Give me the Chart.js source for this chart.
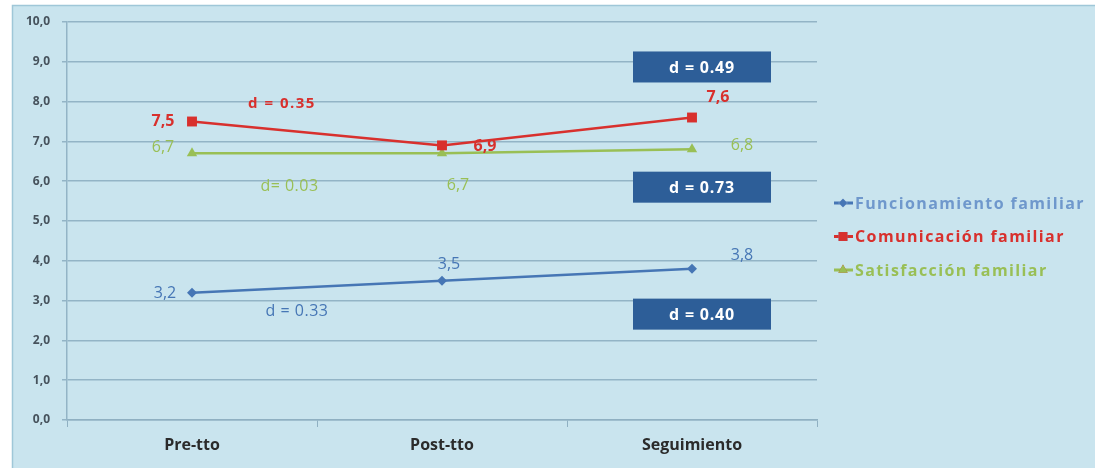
<!DOCTYPE html>
<html>
<head>
<meta charset="utf-8">
<script src="https://cdn.jsdelivr.net/npm/chart.js@4.4.1/dist/chart.umd.min.js"></script>
<style>
  html, body { margin: 0; padding: 0; background: #ffffff; }
  #wrap { width: 1095px; height: 468px; position: relative; }
</style>
</head>
<body>
<div id="wrap"><canvas id="chart" width="1095" height="468"></canvas></div>
<script>
// data
const categories = ["Pre-tto", "Post-tto", "Seguimiento"];
const seriesNames = ["Funcionamiento familiar", "Comunicación familiar", "Satisfacción familiar"];
const funcionamiento = [3.2, 3.5, 3.8];
const comunicacion = [7.5, 6.9, 7.6];
const satisfaccion = [6.7, 6.7, 6.8];
const yTickLabels = ["0,0", "1,0", "2,0", "3,0", "4,0", "5,0", "6,0", "7,0", "8,0", "9,0", "10,0"];
const effectSizes = ["d = 0.33", "d = 0.35", "d= 0.03"];
const effectBoxes = ["d = 0.40", "d = 0.49", "d = 0.73"];

const BLUE = "#4676b5";
const RED = "#d8302d";
const GREEN = "#99bf55";
const BOX = "#2d5e98";

// label offsets (px) per point, relative to the marker
const labelOffsets = [
  [[-27, 1], [7, -16], [50, -13]],
  [[-29, 0], [43, 1], [26, -20]],
  [[-29, -6], [16, 32], [50, -4]]
];
// where the d-annotations sit (category index, y value)
const effectAnchors = [[0.42, 2.72], [0.36, 7.95], [0.39, 5.87]];
const boxAnchors = [[2.04, 2.66], [2.04, 8.87], [2.04, 5.85]];

const datasets = [
  { label: seriesNames[0], data: funcionamiento, borderColor: BLUE, backgroundColor: BLUE,
    pointStyle: "rectRot", pointRadius: 5 },
  { label: seriesNames[1], data: comunicacion, borderColor: RED, backgroundColor: RED,
    pointStyle: "rect", pointRadius: 7 },
  { label: seriesNames[2], data: satisfaccion, borderColor: GREEN, backgroundColor: GREEN,
    pointStyle: "triangle", pointRadius: 6 }
].map(d => ({ ...d, borderWidth: 2.5, tension: 0, pointBorderWidth: 0, pointHoverRadius: d.pointRadius }));

const panelPlugin = {
  id: "panel",
  beforeDraw(chart) {
    const ctx = chart.ctx;
    ctx.save();
    ctx.fillStyle = "#ffffff";
    ctx.fillRect(0, 0, chart.width, chart.height);
    ctx.fillStyle = "#c9e4ee";
    ctx.fillRect(12, 5, chart.width - 12, chart.height - 5);
    ctx.strokeStyle = "#9fc7d8";
    ctx.lineWidth = 1.5;
    ctx.beginPath();
    ctx.moveTo(12.5, chart.height);
    ctx.lineTo(12.5, 5.5);
    ctx.lineTo(chart.width, 5.5);
    ctx.stroke();
    ctx.restore();
  }
};

const labelsPlugin = {
  id: "labels",
  afterDatasetsDraw(chart) {
    const ctx = chart.ctx;
    const xs = chart.scales.x, ys = chart.scales.y;
    ctx.save();
    ctx.textAlign = "center";
    ctx.textBaseline = "middle";
    chart.data.datasets.forEach((ds, i) => {
      const meta = chart.getDatasetMeta(i);
      meta.data.forEach((pt, j) => {
        const off = labelOffsets[i][j];
        ctx.fillStyle = ds.borderColor;
        ctx.font = i === 1 ? "bold 16px 'Open Sans'" : "16px 'Open Sans'";
        ctx.fillText(ds.data[j].toFixed(1).replace(".", ","), pt.x + off[0], pt.y + off[1]);
      });
    });
    // d annotations as plain text
    const colors = [BLUE, RED, GREEN];
    effectSizes.forEach((txt, i) => {
      const a = effectAnchors[i];
      ctx.fillStyle = colors[i];
      ctx.font = i === 1 ? "bold 15px 'Open Sans'" : "16px 'Open Sans'";
      ctx.letterSpacing = i === 1 ? "1.5px" : "0.5px";
      ctx.fillText(txt, xs.getPixelForValue(a[0]), ys.getPixelForValue(a[1]));
    });
    // d annotations in dark boxes
    ctx.letterSpacing = "0.8px";
    effectBoxes.forEach((txt, i) => {
      const a = boxAnchors[i];
      const cx = xs.getPixelForValue(a[0]), cy = ys.getPixelForValue(a[1]);
      ctx.fillStyle = BOX;
      ctx.fillRect(cx - 69, cy - 15.5, 138, 31);
      ctx.fillStyle = "#ffffff";
      ctx.font = "bold 16px 'Open Sans'";
      ctx.fillText(txt, cx, cy + 1);
    });
    // legend
    ctx.textAlign = "left";
    ctx.font = "bold 16px 'Open Sans'";
    ctx.letterSpacing = "1.4px";
    chart.data.datasets.forEach((ds, i) => {
      const y = 203 + i * 33.5;
      ctx.strokeStyle = ds.borderColor;
      ctx.lineWidth = 3;
      ctx.beginPath();
      ctx.moveTo(834, y);
      ctx.lineTo(853, y);
      ctx.stroke();
      Chart.helpers.drawPoint(ctx, { pointStyle: ds.pointStyle, radius: ds.pointRadius * 0.9, borderWidth: 0 }, 843, y);
      ctx.fillStyle = ds.borderColor;
      ctx.fill();
      ctx.fillStyle = i === 0 ? "#6f98cc" : ds.borderColor;
      ctx.fillText(ds.label, 855, y + 1);
    });
    ctx.restore();
  }
};

new Chart(document.getElementById("chart"), {
  type: "line",
  data: { labels: categories, datasets },
  options: {
    responsive: false,
    animation: false,
    layout: { padding: { left: 12, right: 278, top: 22, bottom: 0 } },
    plugins: { legend: { display: false }, tooltip: { enabled: false } },
    scales: {
      x: {
        offset: true,
        grid: { drawOnChartArea: false, drawTicks: true, tickLength: 7, offset: true, color: "#8fb0c2" },
        border: { color: "#8fb0c2", width: 1.5 },
        ticks: { color: "#2b2b2b", font: { family: "Open Sans", size: 16, weight: "bold" }, padding: 9 },
        afterFit(scale) { scale.height = 48; }
      },
      y: {
        min: 0, max: 10,
        ticks: {
          stepSize: 1, color: "#46525c", padding: 12,
          font: { family: "Open Sans", size: 12, weight: "bold" },
          callback: (v, idx) => yTickLabels[idx]
        },
        grid: { color: "#93b4c6", lineWidth: 1.5, tickLength: 5 },
        border: { color: "#93b4c6", width: 1.5 },
        afterFit(scale) { scale.width = 55; }
      }
    }
  },
  plugins: [panelPlugin, labelsPlugin]
});
</script>
</body>
</html>
